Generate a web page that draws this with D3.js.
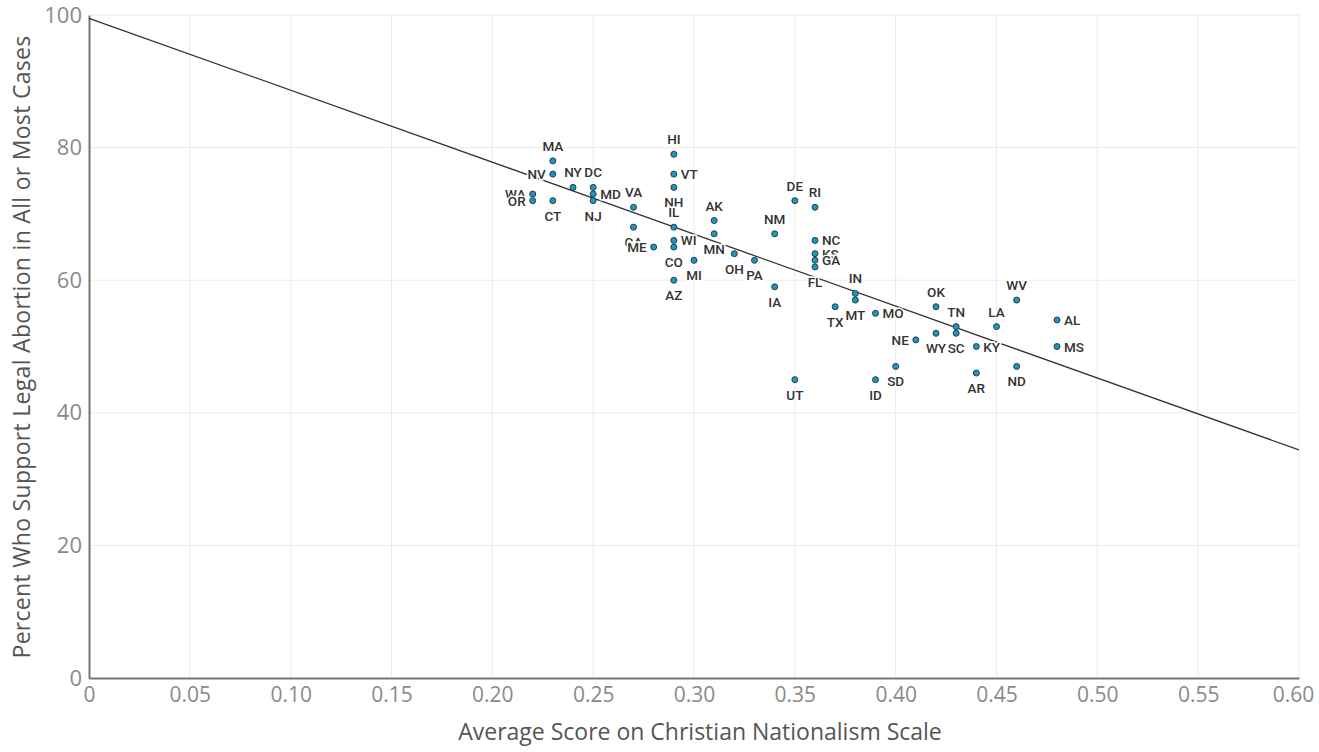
<!DOCTYPE html>
<html>
<head>
<meta charset="utf-8">
<script src="https://cdn.jsdelivr.net/npm/d3@7"></script>
<style>
  body { margin: 0; background: #fff; }
  svg { display: block; }
</style>
</head>
<body>
<div id="chart"></div>
<script>
// State abbreviations and their values
const states = ["WA","OR","MA","NV","CT","NY","DC","MD","NJ","VA","CA","ME",
  "HI","VT","NH","IL","WI","CO","AZ","MI","AK","MN","OH","PA","IA","NM",
  "DE","RI","NC","KS","GA","FL","IN","MT","TX","MO","UT","ID","SD","NE",
  "OK","WY","TN","SC","KY","AR","LA","WV","ND","AL","MS"];
const cnScore = [0.22,0.22,0.23,0.23,0.23,0.24,0.25,0.25,0.25,0.27,0.27,0.28,
  0.29,0.29,0.29,0.29,0.29,0.29,0.29,0.30,0.31,0.31,0.32,0.33,0.34,0.34,
  0.35,0.36,0.36,0.36,0.36,0.36,0.38,0.38,0.37,0.39,0.35,0.39,0.40,0.41,
  0.42,0.42,0.43,0.43,0.44,0.44,0.45,0.46,0.46,0.48,0.48];
const supportPct = [73,72,78,76,72,74,74,73,72,71,68,65,
  79,76,74,68,66,65,60,63,69,67,64,63,59,67,
  72,71,66,64,63,62,58,57,56,55,45,45,47,51,
  56,52,53,52,50,46,53,57,47,54,50];
// where each label sits relative to its dot
const labelPos = ["left","left","top","left","bottom","top","top","right","bottom","top","bottom","left",
  "top","right","bottom","top","right","bottom","bottom","bottom","top","bottom","bottom","bottom","bottom","top",
  "top","top","right","right","right","bottom","top","bottom","bottom","right","bottom","bottom","bottom","left",
  "top","bottom","top","bottom","right","bottom","top","top","bottom","right","right"];

// fitted trend line (ends of the line)
const fitX = [0, 0.60];
const fitY = [99.5, 34.4];

const xTicks = [0,0.05,0.10,0.15,0.20,0.25,0.30,0.35,0.40,0.45,0.50,0.55,0.60];
const xTickLabels = ["0","0.05","0.10","0.15","0.20","0.25","0.30","0.35","0.40","0.45","0.50","0.55","0.60"];
const yTicks = [0,20,40,60,80,100];

const width = 1319, height = 752;
const margin = { top: 15, right: 20, bottom: 74, left: 89 };

const svg = d3.select("#chart").append("svg")
  .attr("width", width)
  .attr("height", height);

const x = d3.scaleLinear().domain([0, 0.60]).range([margin.left, width - margin.right]);
const y = d3.scaleLinear().domain([0, 100]).range([height - margin.bottom, margin.top]);

const font = "'Open Sans', sans-serif";

// grid lines
svg.append("g").selectAll("line")
  .data(xTicks.slice(1))
  .enter().append("line")
  .attr("x1", d => x(d)).attr("x2", d => x(d))
  .attr("y1", y(0)).attr("y2", y(100))
  .attr("stroke", "#ebebeb").attr("stroke-width", 1);

svg.append("g").selectAll("line")
  .data(yTicks.slice(1))
  .enter().append("line")
  .attr("x1", x(0)).attr("x2", x(0.60))
  .attr("y1", d => y(d)).attr("y2", d => y(d))
  .attr("stroke", "#ebebeb").attr("stroke-width", 1);

// axes
const xAxis = d3.axisBottom(x).tickValues(xTicks)
  .tickFormat((d, i) => xTickLabels[i]).tickSize(0).tickPadding(9);
const gx = svg.append("g")
  .attr("transform", `translate(0,${y(0)})`)
  .call(xAxis);
gx.select(".domain").attr("stroke", "#777").attr("stroke-width", 2);
gx.selectAll("text").attr("font-family", font).attr("font-size", 21).attr("fill", "#8a8a8a");
// keep the last label inside the picture
gx.selectAll(".tick").filter(d => d === 0.60).select("text").attr("dx", -6);

const yAxis = d3.axisLeft(y).tickValues(yTicks).tickSize(0).tickPadding(7);
const gy = svg.append("g")
  .attr("transform", `translate(${x(0)},0)`)
  .call(yAxis);
gy.select(".domain").attr("stroke", "#777").attr("stroke-width", 2);
gy.selectAll("text").attr("font-family", font).attr("font-size", 22).attr("fill", "#8a8a8a");

// trend line
svg.append("path")
  .datum(fitX.map((d, i) => [d, fitY[i]]))
  .attr("d", d3.line().x(d => x(d[0])).y(d => y(d[1])))
  .attr("fill", "none")
  .attr("stroke", "#333")
  .attr("stroke-width", 1.3);

const pts = states.map((s, i) => ({ s, cx: cnScore[i], cy: supportPct[i], pos: labelPos[i] }));

// dots
svg.append("g").selectAll("circle")
  .data(pts)
  .enter().append("circle")
  .attr("cx", d => x(d.cx))
  .attr("cy", d => y(d.cy))
  .attr("r", 3)
  .attr("fill", "#1e96bd")
  .attr("stroke", "#22404f")
  .attr("stroke-width", 1);

// state labels
svg.append("g").selectAll("text")
  .data(pts)
  .enter().append("text")
  .attr("x", d => d.pos === "left" ? x(d.cx) - 7 : d.pos === "right" ? x(d.cx) + 7 : x(d.cx))
  .attr("y", d => d.pos === "top" ? y(d.cy) - 10 : d.pos === "bottom" ? y(d.cy) + 20 : y(d.cy) + 5)
  .attr("text-anchor", d => d.pos === "left" ? "end" : d.pos === "right" ? "start" : "middle")
  .attr("font-family", "Roboto, sans-serif")
  .attr("font-size", 13.5)
  .attr("font-weight", 500)
  .attr("fill", "#333")
  .attr("stroke", "#fff")
  .attr("stroke-width", 3)
  .attr("paint-order", "stroke")
  .text(d => d.s);

// axis titles
svg.append("text")
  .attr("x", 700)
  .attr("y", 740)
  .attr("text-anchor", "middle")
  .attr("font-family", font)
  .attr("font-size", 23)
  .attr("fill", "#555")
  .text("Average Score on Christian Nationalism Scale");

svg.append("text")
  .attr("transform", `translate(30,347) rotate(-90)`)
  .attr("text-anchor", "middle")
  .attr("font-family", font)
  .attr("font-size", 23)
  .attr("letter-spacing", 0.3)
  .attr("fill", "#555")
  .text("Percent Who Support Legal Abortion in All or Most Cases");
</script>
</body>
</html>
